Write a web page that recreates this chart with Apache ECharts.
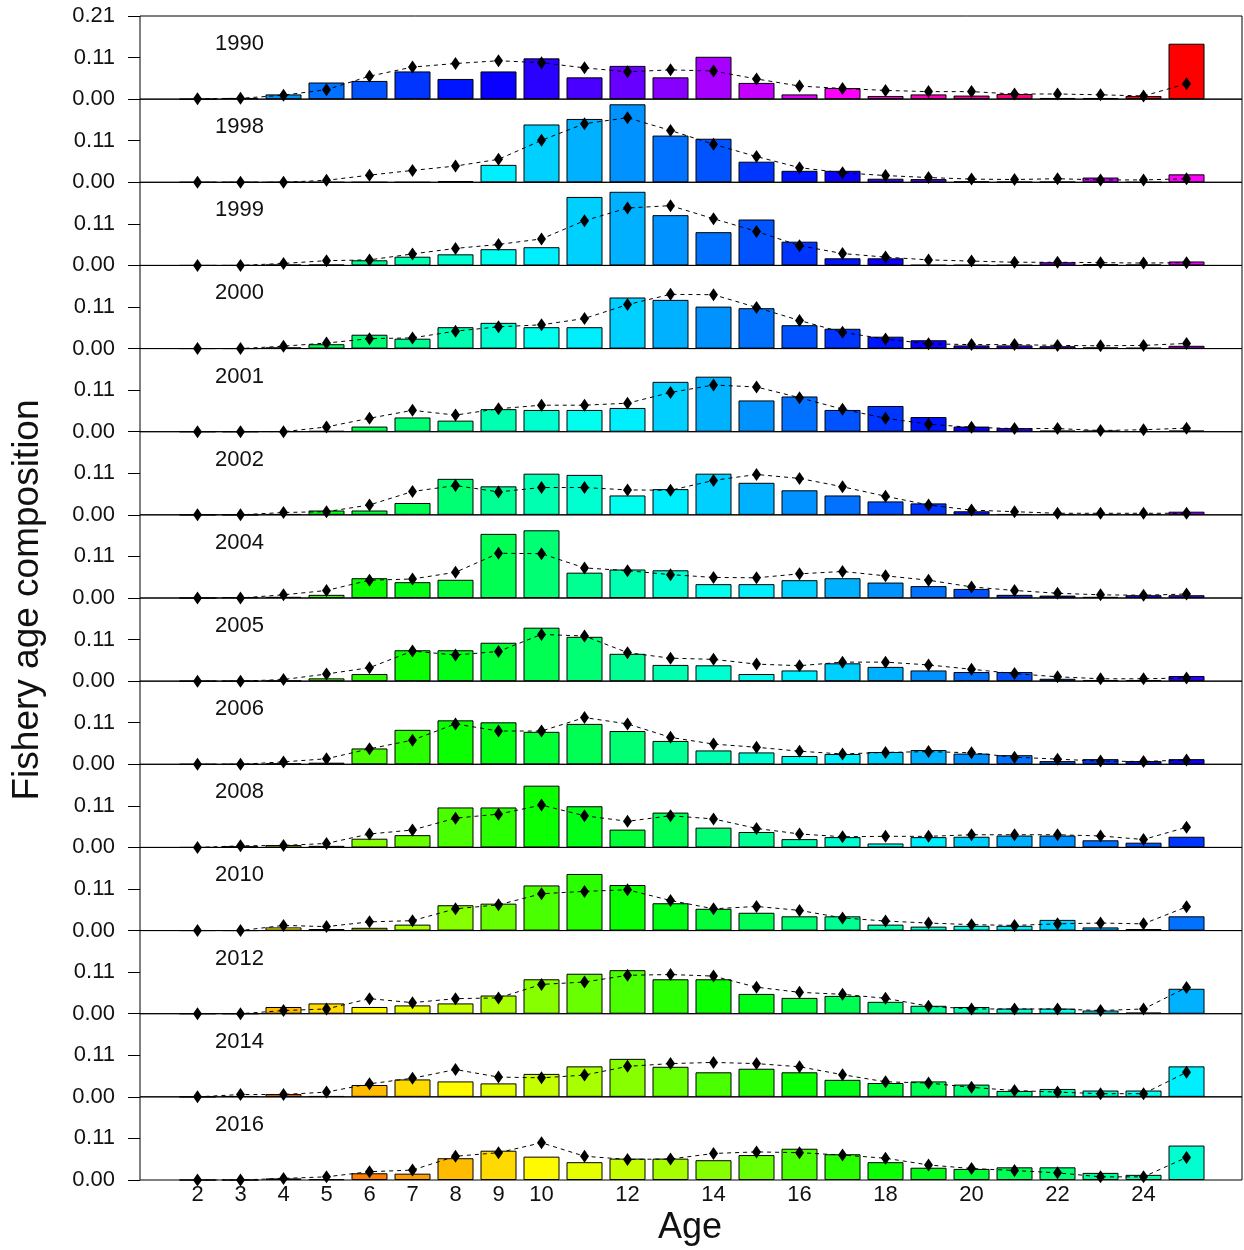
<!DOCTYPE html>
<html>
<head>
<meta charset="utf-8">
<script src="https://cdn.jsdelivr.net/npm/echarts@6/dist/echarts.min.js"></script>
<style>
html,body{margin:0;padding:0;background:#fff;}
#chart{width:1244px;height:1250px;}
</style>
</head>
<body>
<div id="chart"></div>
<script>
// ---- data ----
const ages = [2,3,4,5,6,7,8,9,10,11,12,13,14,15,16,17,18,19,20,21,22,23,24,25];
const years = [1990,1998,1999,2000,2001,2002,2004,2005,2006,2008,2010,2012,2014,2016];
const xTickLabels = [2,3,4,5,6,7,8,9,10,12,14,16,18,20,22,24];
const yTickLabels = ['0.00','0.11','0.21'];

const obs1990 = [0.000,0.003,0.012,0.042,0.046,0.070,0.051,0.070,0.103,0.055,0.084,0.055,0.107,0.041,0.012,0.028,0.008,0.012,0.009,0.013,0.003,0.003,0.008,0.140];
const fit1990 = [0.001,0.002,0.010,0.024,0.058,0.081,0.090,0.097,0.092,0.079,0.069,0.074,0.071,0.051,0.033,0.027,0.022,0.019,0.019,0.013,0.013,0.011,0.008,0.039];
const obs1998 = [0,0,0,0,0,0,0.003,0.044,0.146,0.160,0.197,0.118,0.110,0.052,0.029,0.029,0.009,0.008,0.002,0.001,0.001,0.012,0,0.020];
const fit1998 = [0,0,0,0.005,0.018,0.030,0.041,0.058,0.106,0.148,0.163,0.131,0.096,0.065,0.037,0.024,0.017,0.012,0.008,0.007,0.009,0.006,0.006,0.009];
const obs1999 = [0,0,0.002,0.002,0.013,0.022,0.028,0.041,0.046,0.173,0.186,0.127,0.084,0.116,0.060,0.018,0.018,0.001,0.001,0.001,0.008,0.003,0.002,0.010];
const fit1999 = [0,0,0.005,0.012,0.014,0.029,0.043,0.053,0.067,0.113,0.145,0.151,0.118,0.086,0.050,0.030,0.021,0.014,0.011,0.008,0.008,0.007,0.006,0.007];
const obs2000 = [0,0,0.003,0.011,0.035,0.025,0.054,0.065,0.054,0.054,0.129,0.123,0.106,0.102,0.059,0.050,0.030,0.021,0.008,0.008,0.006,0.003,0.002,0.007];
const fit2000 = [0,0,0.006,0.014,0.025,0.027,0.044,0.055,0.060,0.076,0.111,0.137,0.136,0.104,0.071,0.041,0.024,0.012,0.010,0.010,0.008,0.007,0.008,0.013];
const obs2001 = [0,0,0.001,0.002,0.013,0.036,0.028,0.057,0.055,0.055,0.060,0.126,0.139,0.079,0.089,0.055,0.065,0.037,0.013,0.009,0.003,0.003,0.001,0.003];
const fit2001 = [0,0,0,0.012,0.034,0.054,0.042,0.058,0.067,0.067,0.072,0.099,0.118,0.113,0.086,0.057,0.034,0.019,0.011,0.008,0.008,0.003,0.005,0.009];
const obs2002 = [0,0,0.002,0.011,0.011,0.030,0.091,0.072,0.104,0.101,0.049,0.065,0.104,0.081,0.062,0.049,0.034,0.029,0.009,0.002,0.002,0.002,0.002,0.008];
const fit2002 = [0,0,0.006,0.008,0.025,0.059,0.074,0.058,0.069,0.069,0.063,0.062,0.087,0.102,0.092,0.071,0.047,0.025,0.012,0.008,0.004,0.004,0.004,0.004];
const obs2004 = [0,0.002,0.003,0.008,0.050,0.040,0.046,0.162,0.171,0.064,0.072,0.070,0.035,0.035,0.045,0.050,0.039,0.030,0.023,0.008,0.006,0.003,0.007,0.007];
const fit2004 = [0,0,0.008,0.019,0.045,0.048,0.065,0.113,0.112,0.076,0.069,0.059,0.052,0.051,0.061,0.067,0.056,0.045,0.028,0.019,0.012,0.008,0.007,0.010];
const obs2005 = [0,0,0.001,0.007,0.018,0.078,0.078,0.097,0.135,0.112,0.069,0.041,0.040,0.018,0.027,0.045,0.036,0.027,0.023,0.023,0.006,0.003,0.003,0.013];
const fit2005 = [0,0,0.004,0.018,0.034,0.076,0.066,0.075,0.118,0.114,0.072,0.058,0.055,0.043,0.039,0.048,0.048,0.041,0.030,0.019,0.011,0.006,0.006,0.008];
const obs2006 = [0,0,0.002,0.004,0.040,0.087,0.111,0.106,0.082,0.102,0.084,0.059,0.035,0.030,0.021,0.026,0.031,0.036,0.027,0.023,0.008,0.013,0.008,0.013];
const fit2006 = [0,0,0.006,0.014,0.039,0.061,0.102,0.084,0.084,0.118,0.102,0.068,0.051,0.043,0.033,0.026,0.030,0.032,0.029,0.018,0.013,0.008,0.007,0.011];
const obs2008 = [0,0.003,0.006,0.004,0.022,0.031,0.101,0.101,0.156,0.104,0.045,0.088,0.050,0.039,0.021,0.026,0.010,0.026,0.027,0.030,0.030,0.018,0.012,0.027];
const fit2008 = [0,0.004,0.005,0.010,0.034,0.044,0.074,0.084,0.107,0.080,0.066,0.080,0.072,0.048,0.034,0.027,0.028,0.028,0.032,0.032,0.032,0.029,0.020,0.051];
const obs2010 = [0,0,0.008,0.004,0.007,0.015,0.064,0.068,0.114,0.143,0.115,0.069,0.055,0.045,0.036,0.036,0.015,0.010,0.012,0.012,0.027,0.008,0.004,0.036];
const fit2010 = [0,0,0.013,0.010,0.022,0.025,0.055,0.065,0.093,0.099,0.103,0.076,0.055,0.061,0.051,0.032,0.024,0.019,0.015,0.013,0.017,0.019,0.017,0.060];
const obs2012 = [0,0,0.017,0.026,0.017,0.021,0.026,0.046,0.087,0.101,0.110,0.087,0.087,0.050,0.040,0.045,0.030,0.020,0.017,0.013,0.013,0.008,0.003,0.063];
const fit2012 = [0,0,0.008,0.012,0.038,0.028,0.038,0.040,0.074,0.080,0.097,0.099,0.095,0.067,0.054,0.049,0.039,0.019,0.012,0.012,0.012,0.008,0.012,0.066];
const obs2014 = [0,0.002,0.007,0.002,0.030,0.044,0.039,0.034,0.058,0.077,0.096,0.076,0.062,0.071,0.062,0.043,0.035,0.039,0.031,0.015,0.020,0.016,0.016,0.077];
const fit2014 = [0,0.006,0.006,0.012,0.033,0.047,0.069,0.050,0.048,0.055,0.077,0.084,0.087,0.084,0.076,0.056,0.038,0.035,0.024,0.016,0.012,0.008,0.008,0.062];
const obs2016 = [0,0,0.004,0.002,0.017,0.016,0.055,0.074,0.059,0.045,0.054,0.054,0.050,0.063,0.079,0.065,0.045,0.031,0.028,0.032,0.032,0.018,0.013,0.087];
const fit2016 = [0,0,0.004,0.008,0.021,0.025,0.060,0.069,0.094,0.060,0.052,0.053,0.067,0.071,0.069,0.063,0.055,0.038,0.029,0.024,0.018,0.008,0.008,0.057];

const panels = [
  [1990, obs1990, fit1990], [1998, obs1998, fit1998], [1999, obs1999, fit1999],
  [2000, obs2000, fit2000], [2001, obs2001, fit2001], [2002, obs2002, fit2002],
  [2004, obs2004, fit2004], [2005, obs2005, fit2005], [2006, obs2006, fit2006],
  [2008, obs2008, fit2008], [2010, obs2010, fit2010], [2012, obs2012, fit2012],
  [2014, obs2014, fit2014], [2016, obs2016, fit2016]
];

// ---- style ----
const FONT = '"Liberation Sans", Arial, sans-serif';
const TOP = 16, BOTTOM = 1180;
const H = (BOTTOM - TOP) / panels.length;
const firstCohort = 1965, nCohorts = 49;

function cohortColor(year, age) {
  const j = year - age - firstCohort;
  let h = (360 - j * 360 / nCohorts) % 360;
  if (h < 0) h += 360;
  return 'hsl(' + h.toFixed(1) + ',100%,50%)';
}

const grids = [], xAxes = [], yAxes = [], series = [], graphics = [];
panels.forEach((p, i) => {
  const [year, obs, fit] = p;
  const last = i === panels.length - 1;
  grids.push({left: 140, right: 2, top: TOP + i * H, height: H, show: true,
    borderColor: '#000', borderWidth: 1, backgroundColor: 'transparent'});
  xAxes.push({
    gridIndex: i, type: 'value', min: 0.663, max: 26.29,
    axisLine: {show: false}, axisTick: {show: false}, splitLine: {show: false},
    axisLabel: {show: last, customValues: xTickLabels, fontSize: 22, margin: 4,
      color: '#111', fontFamily: FONT}
  });
  yAxes.push({
    gridIndex: i, type: 'value', min: 0, max: 0.21, interval: 0.105,
    axisLine: {show: false}, splitLine: {show: false},
    axisTick: {show: true, length: 12, lineStyle: {color: '#000', width: 1}},
    axisLabel: {
      fontSize: 22, margin: 25, color: '#111', fontFamily: FONT,
      showMaxLabel: i === 0, showMinLabel: true,
      formatter: v => v < 0.05 ? yTickLabels[0] : (v < 0.15 ? yTickLabels[1] : yTickLabels[2])
    }
  });
  series.push({
    type: 'bar', xAxisIndex: i, yAxisIndex: i, barWidth: 36, silent: true,
    data: ages.map((a, k) => ({value: [a, obs[k]], itemStyle: {color: cohortColor(year, a)}})),
    itemStyle: {borderColor: '#000', borderWidth: 1},
    z: 2
  });
  series.push({
    type: 'line', xAxisIndex: i, yAxisIndex: i, silent: true,
    data: ages.map((a, k) => [a, fit[k]]),
    symbol: 'diamond', symbolSize: [9, 13], showAllSymbol: true,
    itemStyle: {color: '#000'},
    lineStyle: {color: '#000', width: 1, type: [4, 4]},
    z: 3
  });
  graphics.push({
    type: 'text', left: 215, top: TOP + i * H + 17,
    style: {text: String(year), fontSize: 22, fontFamily: FONT, fill: '#111'}
  });
});

graphics.push({
  type: 'text', x: 28, y: 600, rotation: Math.PI / 2,
  style: {text: 'Fishery age composition', fontSize: 37, fontFamily: FONT, fill: '#111',
    textAlign: 'center', textVerticalAlign: 'middle'}
});
graphics.push({
  type: 'text', x: 690, y: 1228,
  style: {text: 'Age', fontSize: 36, fontFamily: FONT, fill: '#111',
    textAlign: 'center', textVerticalAlign: 'middle'}
});

const chart = echarts.init(document.getElementById('chart'), null, {renderer: 'canvas'});
chart.setOption({
  animation: false,
  backgroundColor: '#fff',
  grid: grids, xAxis: xAxes, yAxis: yAxes, series: series, graphic: graphics
});
</script>
</body>
</html>
